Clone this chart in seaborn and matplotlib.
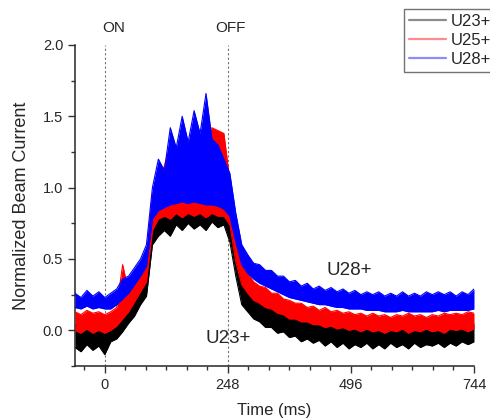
import numpy as np
import pandas as pd
import matplotlib
matplotlib.use("Agg")
import matplotlib.pyplot as plt
from matplotlib.lines import Line2D
from matplotlib.ticker import MultipleLocator, FormatStrFormatter
import seaborn as sns

# time axis (ms), shared by all three traces
time_ms = list(range(-60, 745, 12))

# noisy traces read as lower / upper envelopes of each band
u28_hi = [0.26, 0.23, 0.28, 0.24, 0.27, 0.23, 0.26, 0.29, 0.36, 0.38, 0.44, 0.50, 0.60,
          1.00, 1.20, 1.12, 1.42, 1.28, 1.50, 1.32, 1.54, 1.38, 1.66, 1.34, 1.30, 1.20,
          1.10, 0.82, 0.60, 0.53, 0.47, 0.46, 0.42, 0.42, 0.38, 0.38, 0.34, 0.35, 0.31,
          0.33, 0.29, 0.31, 0.28, 0.30, 0.27, 0.29, 0.26, 0.28, 0.25, 0.27, 0.25, 0.27,
          0.24, 0.26, 0.24, 0.27, 0.24, 0.26, 0.24, 0.27, 0.25, 0.27, 0.25, 0.27, 0.24,
          0.27, 0.25, 0.29]
u28_lo = [0.16, 0.15, 0.17, 0.15, 0.16, 0.15, 0.15, 0.18, 0.22, 0.26, 0.32, 0.38, 0.45,
          0.78, 0.84, 0.86, 0.88, 0.89, 0.90, 0.89, 0.90, 0.89, 0.88, 0.88, 0.87, 0.85,
          0.80, 0.62, 0.46, 0.40, 0.36, 0.33, 0.31, 0.29, 0.27, 0.25, 0.23, 0.22, 0.21,
          0.20, 0.19, 0.18, 0.18, 0.17, 0.16, 0.16, 0.15, 0.15, 0.15, 0.14, 0.14, 0.14,
          0.13, 0.13, 0.13, 0.14, 0.13, 0.13, 0.13, 0.13, 0.13, 0.14, 0.13, 0.14, 0.14,
          0.14, 0.14, 0.15]
u25_hi = [0.13, 0.11, 0.14, 0.12, 0.13, 0.11, 0.13, 0.16, 0.46, 0.27, 0.35, 0.42, 0.52,
          0.95, 1.08, 1.15, 1.30, 1.25, 1.32, 1.28, 1.35, 1.30, 1.38, 1.42, 1.40, 1.38,
          1.05, 0.70, 0.46, 0.40, 0.34, 0.31, 0.30, 0.26, 0.26, 0.22, 0.21, 0.19, 0.19,
          0.16, 0.17, 0.14, 0.16, 0.13, 0.14, 0.12, 0.13, 0.11, 0.12, 0.10, 0.12, 0.10,
          0.11, 0.09, 0.11, 0.10, 0.12, 0.10, 0.11, 0.09, 0.11, 0.10, 0.12, 0.11, 0.12,
          0.11, 0.13, 0.12]
u25_lo = [0.00, -0.02, 0.01, -0.02, 0.00, -0.02, 0.00, 0.03, 0.08, 0.13, 0.20, 0.27, 0.34,
          0.70, 0.78, 0.80, 0.78, 0.82, 0.79, 0.82, 0.80, 0.82, 0.79, 0.82, 0.80, 0.80,
          0.74, 0.48, 0.32, 0.26, 0.21, 0.19, 0.16, 0.15, 0.12, 0.11, 0.08, 0.08, 0.06,
          0.06, 0.04, 0.04, 0.02, 0.03, 0.01, 0.02, 0.00, 0.01, -0.01, 0.01, -0.01, 0.00,
          -0.02, 0.00, -0.01, 0.01, -0.02, 0.00, -0.01, 0.01, -0.01, 0.00, -0.02, 0.01, 0.00,
          0.01, -0.01, 0.01]
u23_hi = [0.04, 0.03, 0.05, 0.03, 0.04, 0.02, 0.04, 0.08, 0.14, 0.20, 0.26, 0.33, 0.40,
          0.85, 1.00, 1.05, 1.20, 1.10, 1.25, 1.05, 1.15, 1.05, 1.10, 1.00, 1.00, 0.95,
          0.85, 0.55, 0.36, 0.30, 0.26, 0.22, 0.20, 0.18, 0.16, 0.14, 0.12, 0.11, 0.10,
          0.09, 0.08, 0.07, 0.07, 0.06, 0.05, 0.05, 0.04, 0.04, 0.03, 0.04, 0.03, 0.04,
          0.03, 0.04, 0.03, 0.04, 0.03, 0.04, 0.03, 0.04, 0.04, 0.04, 0.03, 0.05, 0.04,
          0.05, 0.04, 0.05]
u23_lo = [-0.12, -0.15, -0.10, -0.14, -0.11, -0.17, -0.08, -0.06, -0.01, 0.05, 0.10, 0.18, 0.24,
          0.60, 0.66, 0.70, 0.66, 0.74, 0.70, 0.75, 0.71, 0.74, 0.70, 0.76, 0.72, 0.74,
          0.62, 0.38, 0.18, 0.13, 0.08, 0.06, 0.02, 0.02, -0.02, -0.01, -0.05, -0.04, -0.08,
          -0.06, -0.09, -0.07, -0.11, -0.08, -0.12, -0.09, -0.13, -0.10, -0.12, -0.09, -0.13, -0.10,
          -0.13, -0.09, -0.12, -0.10, -0.13, -0.09, -0.12, -0.10, -0.11, -0.09, -0.12, -0.09, -0.11,
          -0.08, -0.10, -0.08]

series_names = ["U23+", "U25+", "U28+"]
series_lo = [u23_lo, u25_lo, u28_lo]
series_hi = [u23_hi, u25_hi, u28_hi]
colors = ["black", "red", "blue"]

x_ticks = [0, 248, 496, 744]
on_off = [0, 248]

sns.set_style("ticks")
plt.rcParams["font.family"] = ["Liberation Sans", "DejaVu Sans"]

fig = plt.figure(figsize=(4.9, 4.2), dpi=100)
ax = fig.add_axes([75 / 490, 1 - 366 / 420, 399 / 490, 321 / 420])

for i, (name, lo, hi, c) in enumerate(zip(series_names, series_lo, series_hi, colors)):
    df = pd.DataFrame({"t": time_ms, "lo": lo, "hi": hi})
    ax.fill_between(df["t"], df["lo"], df["hi"], color=c, lw=0, zorder=2 + 2 * i)
    long = df.melt(id_vars="t", value_vars=["lo", "hi"], var_name="edge", value_name="v")
    sns.lineplot(data=long, x="t", y="v", units="edge", estimator=None,
                 color=c, lw=0.8, ax=ax, legend=False, zorder=2.5 + 2 * i)

for xv in on_off:
    ax.axvline(xv, color="0.45", lw=0.8, ls=(0, (2, 2)), zorder=1)

ax.text(17, 2.07, "ON", ha="center", va="bottom", fontsize=11, clip_on=False)
ax.text(254, 2.07, "OFF", ha="center", va="bottom", fontsize=11, clip_on=False)
ax.text(492, 0.42, "U28+", ha="center", va="center", fontsize=13.5, zorder=10)
ax.text(249, -0.06, "U23+", ha="center", va="center", fontsize=13.5, zorder=10)

ax.set_xlim(-60, 744)
ax.set_ylim(-0.25, 2.0)
ax.set_xticks(x_ticks)
ax.xaxis.set_minor_locator(MultipleLocator(248 / 6))
ax.yaxis.set_major_locator(MultipleLocator(0.5))
ax.yaxis.set_minor_locator(MultipleLocator(0.25))
ax.yaxis.set_major_formatter(FormatStrFormatter("%.1f"))
ax.tick_params(which="major", length=5, width=1, direction="out", labelsize=10.5, color="0.2")
ax.tick_params(which="minor", length=3, width=1, direction="out", color="0.2")
sns.despine(ax=ax)
for s in ["left", "bottom"]:
    ax.spines[s].set_linewidth(1.1)
    ax.spines[s].set_color("0.15")

ax.set_xlabel("Time (ms)", fontsize=12, labelpad=8)
ax.set_ylabel("Normalized Beam Current", fontsize=13, labelpad=9)

handles = [Line2D([], [], color=c, lw=1.6, alpha=0.45) for c in colors]
leg = fig.legend(handles, series_names, loc="upper left",
                 bbox_to_anchor=(404 / 490, 1 - 9 / 420), fontsize=12,
                 frameon=True, fancybox=False, framealpha=1, edgecolor="0.45",
                 handlelength=2.2, handletextpad=0.3, labelspacing=0.25,
                 borderpad=0.3, borderaxespad=0)
leg.get_frame().set_linewidth(1.0)

fig.savefig("out.png", dpi=100)
